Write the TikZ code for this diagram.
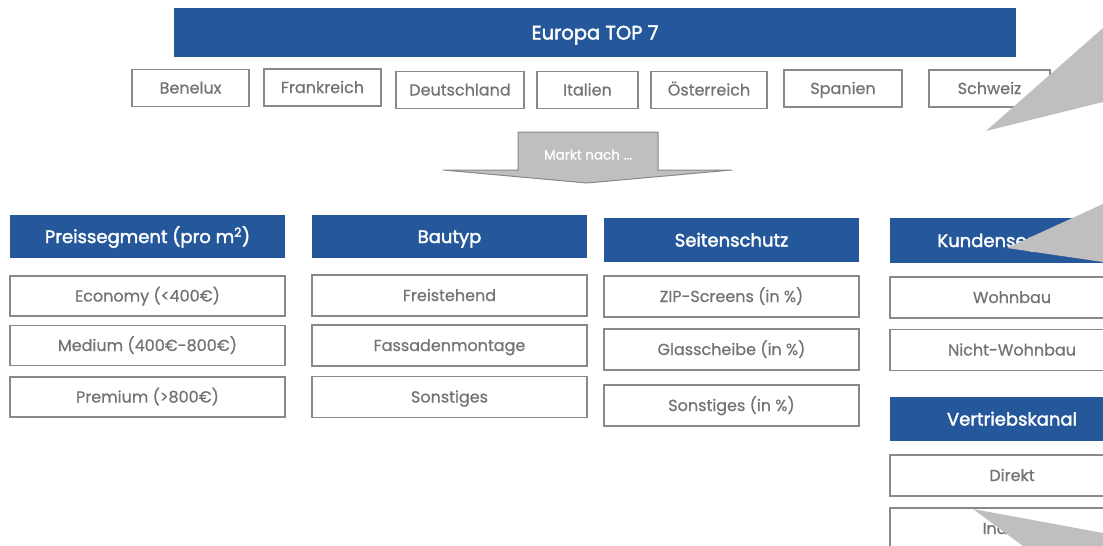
\documentclass[tikz,border=0pt]{standalone}
\usepackage{fontspec}
\setmainfont{Poppins}
\usepackage{tikz}
\usetikzlibrary{positioning}

\definecolor{topblue}{RGB}{37,88,155}
\definecolor{boxgray}{RGB}{137,137,137}
\definecolor{txtgray}{RGB}{115,115,115}
\definecolor{wedgegray}{RGB}{191,191,191}

\tikzset{
  head/.style={fill=topblue, text=white, inner sep=0pt, outer sep=0pt,
    text height=13pt, text depth=0pt,
    font=\fontsize{18}{18}\selectfont\addfontfeature{FakeBold=2}},
  item/.style={draw=boxgray, fill=white, text=txtgray, inner sep=0pt, outer sep=0pt,
    text height=11pt, text depth=0pt,
    line width=1.5pt, font=\fontsize{16}{16}\selectfont\addfontfeature{FakeBold=0.6}},
}

\begin{document}
\begin{tikzpicture}[
  x=1pt, y=-1pt,
  line width=1pt,
]
\useasboundingbox (0,0) rectangle (1103,546);
\clip (0,0) rectangle (1103,546);

% Europa
\node[head, minimum width=842pt, minimum height=49pt, text height=14pt,
  font=\fontsize{19.5}{19.5}\selectfont\addfontfeature{FakeBold=2}] (europa) at (595,32.5) {Europa TOP 7};
\foreach \name/\lbl/\cx/\cy/\w in {benelux/Benelux/190.5/88/117,
  frankreich/Frankreich/322.5/87.5/117,
  deutschland/Deutschland/460/90/128,
  italien/Italien/587.5/90/101,
  oesterreich/Österreich/709/90/116,
  spanien/Spanien/843/88.5/118,
  schweiz/Schweiz/989.5/88.5/121} {
  \node[item, minimum width=\w pt, minimum height=37pt] (\name) at (\cx,\cy) {\lbl};
}

% Pfeil
\draw[fill=wedgegray, draw=boxgray] (518,132) -- (658,132) -- (658,170) -- (732,170)
  -- (587,183) -- (443,170) -- (518,170) -- cycle;
\node[text=white, inner sep=0pt, text height=9pt, text depth=0pt,
  font=\fontsize{13.5}{13.5}\selectfont\addfontfeature{FakeBold=0.8}] (markt) at (588,155) {Markt nach ...};

% Spalten
\node[head, minimum width=275pt, minimum height=43pt] (preis) at (147.5,236.5) {Preissegment (pro m\textsuperscript{2})};
\foreach \name/\lbl/\cy in {economy/Economy (<400€)/296,
  medium/Medium (400€-800€)/345.5,
  premium/Premium (>800€)/397} {
  \node[item, minimum width=275pt, minimum height=40pt] (\name) at (147.5,\cy) {\lbl};
}

\node[head, minimum width=275pt, minimum height=43pt] (bautyp) at (449.5,236.5) {Bautyp};
\foreach \name/\lbl/\cy in {frei/Freistehend/295.5,
  fassade/Fassadenmontage/345.5,
  sonstb/Sonstiges/397} {
  \node[item, minimum width=275pt, minimum height=41pt] (\name) at (449.5,\cy) {\lbl};
}

\node[head, minimum width=255pt, minimum height=44pt] (seite) at (731.5,240) {Seitenschutz};
\foreach \name/\lbl/\cy in {zip/ZIP-Screens (in \%)/296.5,
  glas/Glasscheibe (in \%)/349.5,
  sonsts/Sonstiges (in \%)/405.5} {
  \node[item, minimum width=255pt, minimum height=41pt] (\name) at (731.5,\cy) {\lbl};
}

\node[head, minimum width=244pt, minimum height=45pt] (kunde) at (1012,240.5) {Kundensegment};
\foreach \name/\lbl/\cy in {wohn/Wohnbau/297.5,
  nwohn/Nicht-Wohnbau/350} {
  \node[item, minimum width=244pt, minimum height=41pt] (\name) at (1012,\cy) {\lbl};
}

\node[head, minimum width=244pt, minimum height=44pt] (vertrieb) at (1012,419) {Vertriebskanal};
\foreach \name/\lbl/\cy in {direkt/Direkt/475.5,
  indirekt/Indirekt/528.5} {
  \node[item, minimum width=244pt, minimum height=41pt] (\name) at (1012,\cy) {\lbl};
}

% Keile
\fill[wedgegray] (1103,28) -- (986,131) -- (1103,102) -- cycle;
\fill[wedgegray] (1103,204) -- (1007,248) -- (1103,262) -- cycle;
\fill[wedgegray] (973,509) -- (1103,533) -- (1103,546) -- (1023,546) -- cycle;

\end{tikzpicture}
\end{document}
